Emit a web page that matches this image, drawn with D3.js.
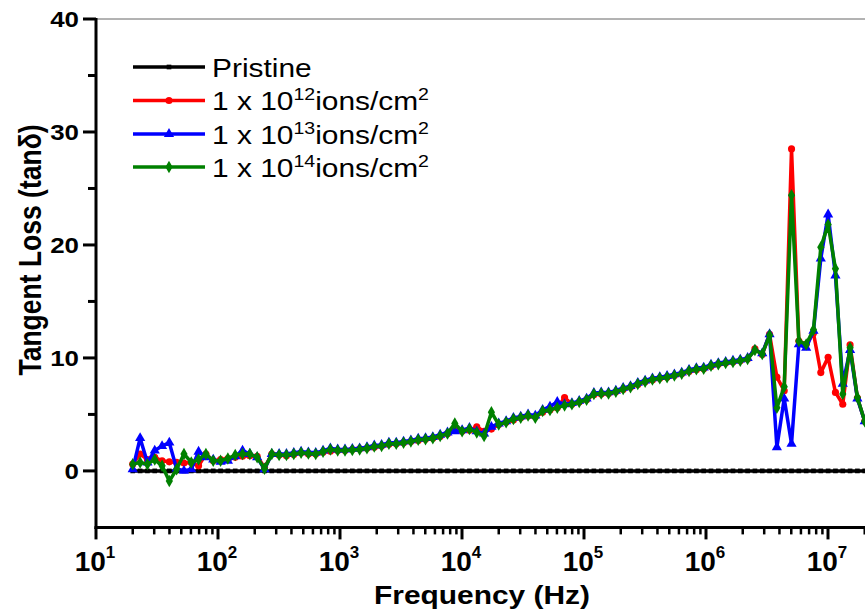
<!DOCTYPE html>
<html>
<head>
<meta charset="utf-8">
<script src="https://cdn.jsdelivr.net/npm/d3@7"></script>
<style>
  html, body { margin: 0; padding: 0; background: #fff; }
  svg { display: block; font-family: Arial, "Liberation Sans", sans-serif; }
</style>
</head>
<body>
<div id="chart"></div>
<script>
// sweep frequencies (Hz), 20 Hz .. 20 MHz
const freq = [
  20, 23, 26.4, 30.3, 34.8, 39.9, 45.8, 52.6, 60.4, 69.3,
  79.6, 91.4, 105, 120.5, 138.4, 158.9, 182.4, 209.4, 240.5, 276.1,
  317, 364, 417.9, 479.8, 550.8, 632.5, 726.2, 833.7, 957.3, 1099,
  1262, 1449, 1664, 1910, 2193, 2518, 2891, 3319, 3811, 4376,
  5024, 5768, 6623, 7604, 8730, 10024, 11509, 13214, 15172, 17419,
  20000, 23000, 26400, 30300, 34800, 39900, 45800, 52600, 60400, 69300,
  79600, 91400, 105000, 120500, 138400, 158900, 182400, 209400, 240500, 276100,
  317000, 364000, 417900, 479800, 550800, 632500, 726200, 833700, 957300, 1099000,
  1262000, 1449000, 1664000, 1910000, 2193000, 2518000, 2891000, 3319000, 3811000, 4376000,
  5024000, 5768000, 6623000, 7604000, 8730000, 10024000, 11509000, 13214000, 15172000, 17419000,
  20000000
];

const pristine = [
  0, 0, 0, 0, 0, 0, 0, 0, 0, 0,
  0, 0, 0, 0, 0, 0, 0, 0, 0, 0,
  0, 0, 0, 0, 0, 0, 0, 0, 0, 0,
  0, 0, 0, 0, 0, 0, 0, 0, 0, 0,
  0, 0, 0, 0, 0, 0, 0, 0, 0, 0,
  0, 0, 0, 0, 0, 0, 0, 0, 0, 0,
  0, 0, 0, 0, 0, 0, 0, 0, 0, 0,
  0, 0, 0, 0, 0, 0, 0, 0, 0, 0,
  0, 0, 0, 0, 0, 0, 0, 0, 0, 0,
  0, 0, 0, 0, 0, 0, 0, 0, 0, 0,
  0
];

const dose12 = [
  0.6, 1.5, 1.0, 1.2, 0.9, 0.8, 0.75, 0.7, 0.75, 0.45,
  1.5, 0.9, 1.0, 1.1, 1.2, 1.3, 1.35, 1.3, 0.3, 1.5,
  1.4, 1.35, 1.45, 1.6, 1.5, 1.5, 1.65, 1.75, 1.8, 1.8,
  1.9, 1.95, 2.0, 2.1, 2.2, 2.35, 2.4, 2.5, 2.6, 2.7,
  2.8, 2.9, 3.05, 3.3, 3.6, 3.5, 3.6, 3.9, 3.5, 3.7,
  4.1, 4.3, 4.5, 4.7, 4.85, 4.8, 5.2, 5.4, 5.6, 6.5,
  5.9, 6.1, 6.3, 6.75, 6.8, 6.85, 7.0, 7.2, 7.4, 7.65,
  7.9, 8.05, 8.2, 8.3, 8.45, 8.6, 8.8, 8.95, 9.05, 9.25,
  9.45, 9.55, 9.65, 9.75, 9.9, 10.8, 10.3, 12.1, 8.3, 7.1,
  28.5, 11.5, 11.2, 12.2, 8.7, 10.05, 6.95, 5.9, 11.15, 6.45,
  4.4
];

const dose13 = [
  0.15, 2.9, 0.75, 1.8, 2.2, 2.5, 0.2, 0.0, 0.15, 1.7,
  1.2, 1.0, 0.8, 0.9, 1.3, 1.8, 1.5, 1.2, 0.15, 1.5,
  1.5, 1.5, 1.6, 1.7, 1.65, 1.6, 1.8, 2.0, 1.9, 1.9,
  1.95, 2.0, 2.1, 2.25, 2.3, 2.5, 2.5, 2.6, 2.7, 2.85,
  2.9, 3.0, 3.2, 3.4, 3.5, 3.6, 3.8, 3.5, 3.3, 3.9,
  4.2, 4.4, 4.7, 4.8, 5.0, 4.9, 5.4, 5.7, 6.1, 5.9,
  6.0, 6.2, 6.4, 6.9, 6.95, 6.95, 7.1, 7.35, 7.5, 7.8,
  8.0, 8.2, 8.3, 8.4, 8.55, 8.7, 8.95, 9.1, 9.15, 9.4,
  9.55, 9.65, 9.75, 9.85, 10.0, 10.7, 10.4, 12.1, 2.1, 6.4,
  2.4, 11.2, 10.9, 12.4, 18.8, 22.7, 17.3, 7.7, 10.7, 6.4,
  4.4
];

const dose14 = [
  0.6, 0.75, 0.6, 1.0, 0.45, -0.9, 0.15, 1.5, 0.75, 1.0,
  1.5, 0.9, 0.9, 1.1, 1.4, 1.5, 1.5, 1.2, 0.2, 1.5,
  1.4, 1.4, 1.5, 1.6, 1.55, 1.5, 1.7, 1.9, 1.8, 1.8,
  1.85, 1.9, 2.0, 2.15, 2.2, 2.4, 2.4, 2.5, 2.6, 2.75,
  2.8, 2.9, 3.1, 3.3, 4.2, 3.5, 3.7, 3.4, 3.1, 5.2,
  4.1, 4.3, 4.6, 4.7, 4.9, 4.7, 5.3, 5.4, 5.6, 5.8,
  5.9, 6.1, 6.3, 6.8, 6.85, 6.85, 7.0, 7.25, 7.4, 7.7,
  7.9, 8.1, 8.2, 8.3, 8.45, 8.6, 8.85, 9.0, 9.05, 9.3,
  9.45, 9.55, 9.65, 9.75, 9.9, 10.7, 10.35, 12.0, 5.6, 7.45,
  24.4, 11.5, 11.2, 12.5, 19.8, 21.8, 17.9, 6.8, 10.9, 6.5,
  4.4
];

const yTicks = [0, 10, 20, 30, 40];
const yMinorTicks = [5, 15, 25, 35];
const xDecades = [1, 2, 3, 4, 5, 6, 7];

const width = 865;
const height = 610;
const sx = 1.15;   // the source picture is stretched sideways

const svg = d3.select("#chart").append("svg")
    .attr("width", width)
    .attr("height", height);

const x = d3.scaleLog()
    .domain([10, 1e8])
    .range([96, 96 + 7 * 122]);

const y = d3.scaleLinear()
    .domain([-5, 40])
    .range([527.4, 19]);

// frame: thin top line, heavy left and bottom axes
svg.append("line")
    .attr("x1", x(10)).attr("x2", width)
    .attr("y1", y(40)).attr("y2", y(40))
    .attr("stroke", "#666").attr("stroke-width", 1);

// y ticks
const yAxis = svg.append("g");
yAxis.selectAll(".major").data(yTicks).join("line")
    .attr("x1", x(10) - 13).attr("x2", x(10))
    .attr("y1", d => y(d)).attr("y2", d => y(d))
    .attr("stroke", "#000").attr("stroke-width", 3);
yAxis.selectAll(".minor").data(yMinorTicks).join("line")
    .attr("x1", x(10) - 8).attr("x2", x(10))
    .attr("y1", d => y(d)).attr("y2", d => y(d))
    .attr("stroke", "#000").attr("stroke-width", 3);
yAxis.selectAll("text").data(yTicks).join("text")
    .attr("transform", d => `translate(79,${y(d) + 8}) scale(${sx},1)`)
    .attr("text-anchor", "end")
    .attr("font-size", 22.5)
    .attr("font-weight", "bold")
    .text(d => d);

// x ticks
const minorVals = [];
xDecades.forEach(function(e) {
    for (let m = 2; m <= 9; ++m) minorVals.push(m * Math.pow(10, e));
});
const majorVals = xDecades.map(e => Math.pow(10, e));

const xAxis = svg.append("g");
xAxis.selectAll(".minor").data(minorVals.filter(v => x(v) < width + 2)).join("line")
    .attr("x1", d => x(d)).attr("x2", d => x(d))
    .attr("y1", y(-5)).attr("y2", y(-5) + 7)
    .attr("stroke", "#000").attr("stroke-width", 2.5);
xAxis.selectAll(".major").data(majorVals).join("line")
    .attr("x1", d => x(d)).attr("x2", d => x(d))
    .attr("y1", y(-5)).attr("y2", y(-5) + 12)
    .attr("stroke", "#000").attr("stroke-width", 3);

const xLabels = xAxis.selectAll("text").data(xDecades).join("text")
    .attr("transform", d => `translate(${x(Math.pow(10, d)) - 1},571)`)
    .attr("text-anchor", "middle")
    .attr("font-size", 28)
    .attr("font-weight", "bold");
xLabels.append("tspan").text("10");
xLabels.append("tspan").attr("dy", -13).attr("font-size", 17).text(d => d);

// axis lines
svg.append("line")
    .attr("x1", x(10)).attr("x2", x(10))
    .attr("y1", y(40) - 1).attr("y2", y(-5) + 1.5)
    .attr("stroke", "#000").attr("stroke-width", 3);
svg.append("line")
    .attr("x1", x(10) - 1.5).attr("x2", width)
    .attr("y1", y(-5)).attr("y2", y(-5))
    .attr("stroke", "#000").attr("stroke-width", 3);

// axis titles
svg.append("text")
    .attr("transform", `translate(482,604) scale(${sx},1)`)
    .attr("text-anchor", "middle")
    .attr("font-size", 26)
    .attr("font-weight", "bold")
    .text("Frequency (Hz)");

svg.append("text")
    .attr("transform", `translate(41,250) scale(${sx},1) rotate(-90)`)
    .attr("text-anchor", "middle")
    .attr("font-size", 26.5)
    .attr("font-weight", "bold")
    .text("Tangent Loss (tan\u03B4)");

// series
const series = [
    {name: "Pristine", values: pristine, color: "#000000", symbol: d3.symbolSquare, size: 22},
    {name: "12", values: dose12, color: "#ff0000", symbol: d3.symbolCircle, size: 40},
    {name: "13", values: dose13, color: "#0000ff", symbol: d3.symbolTriangle, size: 45},
    {name: "14", values: dose14, color: "#008000", symbol: d3.symbolDiamond, size: 45}
];

const line = d3.line()
    .x(d => x(d[0]))
    .y(d => y(d[1]));

const plot = svg.append("g");
series.forEach(function(s) {
    const pts = freq.map((f, i) => [f, s.values[i]]);
    plot.append("path")
        .datum(pts)
        .attr("fill", "none")
        .attr("stroke", s.color)
        .attr("stroke-width", 3.5)
        .attr("stroke-linejoin", "round")
        .attr("d", line);
    plot.selectAll(null).data(pts).join("path")
        .attr("transform", d => `translate(${x(d[0])},${y(d[1])})`)
        .attr("d", d3.symbol().type(s.symbol).size(s.size))
        .attr("fill", s.color);
});

// legend
const legendRows = [67, 100.5, 134, 167];
const legend = svg.append("g");
series.forEach(function(s, i) {
    const ly = legendRows[i];
    legend.append("line")
        .attr("x1", 133).attr("x2", 205)
        .attr("y1", ly).attr("y2", ly)
        .attr("stroke", s.color).attr("stroke-width", 3.5);
    legend.append("path")
        .attr("transform", `translate(169,${ly})`)
        .attr("d", d3.symbol().type(s.symbol).size(s.size))
        .attr("fill", s.color);
    const t = legend.append("text")
        .attr("transform", `translate(212,${ly + 9.5}) scale(${sx},1)`)
        .attr("font-size", 26);
    if (i === 0) {
        t.text(s.name);
    } else {
        t.append("tspan").text("1 x 10");
        t.append("tspan").attr("dy", -10).attr("font-size", 17).text(s.name);
        t.append("tspan").attr("dy", 10).text("ions/cm");
        t.append("tspan").attr("dy", -10).attr("font-size", 17).text("2");
    }
});
</script>
</body>
</html>
